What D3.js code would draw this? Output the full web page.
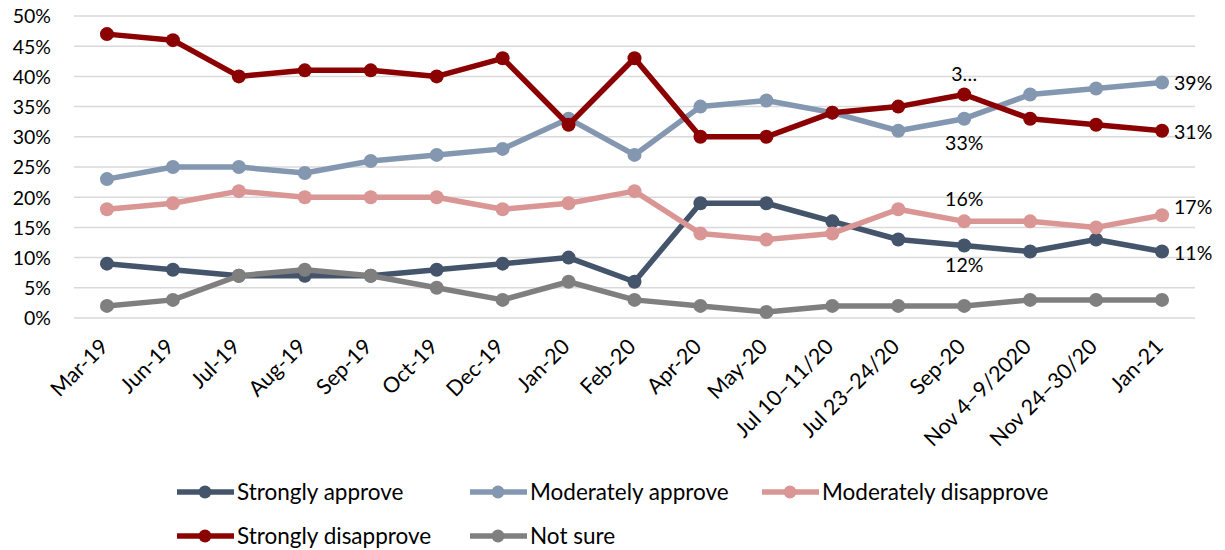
<!DOCTYPE html>
<html><head><meta charset="utf-8">
<script src="https://cdn.jsdelivr.net/npm/d3@7"></script>
<style>
body{margin:0;background:#fff;}
text{font-family:Lato,"Open Sans",sans-serif;fill:#000;}
</style></head>
<body><svg id="c" width="1225" height="550"></svg>
<script>
const categories = ["Mar-19","Jun-19","Jul-19","Aug-19","Sep-19","Oct-19","Dec-19","Jan-20","Feb-20","Apr-20","May-20","Jul 10\u201311/20","Jul 23\u201324/20","Sep-20","Nov 4\u20139/2020","Nov 24\u201330/20","Jan-21"];
const stronglyApprove = [9,8,7,7,7,8,9,10,6,19,19,16,13,12,11,13,11];
const moderatelyApprove = [23,25,25,24,26,27,28,33,27,35,36,34,31,33,37,38,39];
const moderatelyDisapprove = [18,19,21,20,20,20,18,19,21,14,13,14,18,16,16,15,17];
const stronglyDisapprove = [47,46,40,41,41,40,43,32,43,30,30,34,35,37,33,32,31];
const notSure = [2,3,7,8,7,5,3,6,3,2,1,2,2,2,3,3,3];
const yTicks = [0,5,10,15,20,25,30,35,40,45,50];
const seriesNames = ["Strongly approve","Moderately approve","Moderately disapprove","Strongly disapprove","Not sure"];
const seriesColors = ["#44546A","#8497B0","#DA9694","#8B0000","#7F7F7F"];

(function(){
const series = [stronglyApprove, moderatelyApprove, moderatelyDisapprove, stronglyDisapprove, notSure]
  .map((v,i)=>({name:seriesNames[i], color:seriesColors[i], values:v}));

const svg = d3.select("#c");
const mLeft = 74, mRight = 1195, mTop = 16, mBottom = 318;
const x = d3.scalePoint().domain(categories).range([mLeft, mRight]).padding(0.5);
const y = d3.scaleLinear().domain([0,50]).range([mBottom, mTop]);

svg.append("g").selectAll("line").data(yTicks).join("line")
  .attr("x1", mLeft).attr("x2", mRight)
  .attr("y1", d=>y(d)).attr("y2", d=>y(d))
  .attr("stroke", "#d9d9d9").attr("stroke-width", 1.5);

const yAxis = d3.axisLeft(y).tickValues(yTicks).tickFormat(d=>d+"%").tickSize(0).tickPadding(0);
const ya = svg.append("g").attr("transform", `translate(${mLeft-23},0)`).call(yAxis);
ya.select(".domain").remove();
ya.selectAll("text").style("font-size","19.5px").attr("dy","0.35em").attr("fill","#000");

const xAxis = d3.axisBottom(x).tickSize(0).tickPadding(0);
const xa = svg.append("g").attr("transform", `translate(0,${mBottom})`).call(xAxis);
xa.select(".domain").remove();
xa.selectAll("text")
  .style("font-size","21.5px")
  .attr("fill","#000")
  .attr("text-anchor","end")
  .attr("dy","0")
  .attr("y",0)
  .attr("transform","translate(2,30) rotate(-45)");

const line = d3.line().x((d,i)=>x(categories[i])).y(d=>y(d));
series.forEach(s=>{
  const g = svg.append("g");
  g.append("path").attr("d", line(s.values)).attr("fill","none")
    .attr("stroke", s.color).attr("stroke-width", 5.5).attr("stroke-linejoin","round");
  g.selectAll("circle").data(s.values).join("circle")
    .attr("cx",(d,i)=>x(categories[i])).attr("cy", d=>y(d)).attr("r",7)
    .attr("fill", s.color);
});

const sep = categories[13], jan = categories[16];
const labels = [
  {cat:sep, v:stronglyDisapprove[13], text:"3\u2026", dx:0, dy:-14, anchor:"middle"},
  {cat:sep, v:moderatelyApprove[13], text:moderatelyApprove[13]+"%", dx:0, dy:31, anchor:"middle"},
  {cat:sep, v:moderatelyDisapprove[13], text:moderatelyDisapprove[13]+"%", dx:0, dy:-15, anchor:"middle"},
  {cat:sep, v:stronglyApprove[13], text:stronglyApprove[13]+"%", dx:0, dy:26, anchor:"middle"},
  {cat:jan, v:moderatelyApprove[16], text:moderatelyApprove[16]+"%", dx:12, dy:8, anchor:"start"},
  {cat:jan, v:stronglyDisapprove[16], text:stronglyDisapprove[16]+"%", dx:12, dy:8, anchor:"start"},
  {cat:jan, v:moderatelyDisapprove[16], text:moderatelyDisapprove[16]+"%", dx:12, dy:-1, anchor:"start"},
  {cat:jan, v:stronglyApprove[16], text:stronglyApprove[16]+"%", dx:12, dy:8, anchor:"start"},
];
svg.append("g").selectAll("text").data(labels).join("text")
  .attr("x", d=>x(d.cat)+d.dx).attr("y", d=>y(d.v)+d.dy)
  .attr("text-anchor", d=>d.anchor).style("font-size","19.5px").text(d=>d.text);

const legendPos = [[177,492],[470,492],[762,492],[177,536],[470,536]];
series.forEach((s,i)=>{
  const [lx,ly] = legendPos[i];
  const g = svg.append("g").attr("transform",`translate(${lx},${ly})`);
  g.append("line").attr("x1",0).attr("x2",57).attr("y1",0).attr("y2",0)
    .attr("stroke",s.color).attr("stroke-width",5.5);
  g.append("circle").attr("cx",28).attr("cy",0).attr("r",6.5).attr("fill",s.color);
  g.append("text").attr("x",60).attr("y",0).attr("dy","0.35em")
    .style("font-size","22.5px").text(s.name);
});
})();
</script></body></html>
